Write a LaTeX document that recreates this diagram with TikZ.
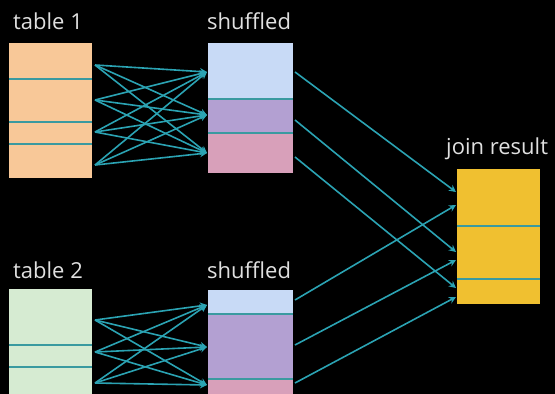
\documentclass[tikz,border=0pt]{standalone}
\usepackage{fontspec}
\setmainfont{Open Sans}
\usetikzlibrary{arrows.meta}
\definecolor{bg}{HTML}{000000}
\definecolor{arrowc}{HTML}{2BA3B3}
\definecolor{divc}{HTML}{3A9AA0}
\definecolor{peach}{HTML}{F8C898}
\definecolor{mint}{HTML}{D6EBD2}
\definecolor{lblue}{HTML}{C8DAF6}
\definecolor{lpurple}{HTML}{B3A0D2}
\definecolor{lpink}{HTML}{D8A0BA}
\definecolor{gold}{HTML}{F0C030}
\definecolor{txt}{HTML}{E0E0E0}
\begin{document}
\begin{tikzpicture}[x=1pt,y=-1pt,
  lbl/.style={anchor=base west,inner sep=0pt,text=txt,font=\fontsize{22}{24}\selectfont},
  conn/.style={draw=arrowc,line width=1.6pt,-{Stealth[length=7pt,width=7pt]}},
  divl/.style={draw=divc,line width=2.6pt}]
\fill[bg] (0,0) rectangle (555,394);
\useasboundingbox (0,0) rectangle (555,394);
% table 1
\fill[peach] (9,43) rectangle (92,178);
\foreach \y in {79,122,144} \draw[divl] (9,\y) -- (92,\y);
% shuffled 1
\fill[lblue] (208,43) rectangle (293,99);
\fill[lpurple] (208,99) rectangle (293,133);
\fill[lpink] (208,133) rectangle (293,173);
\foreach \y in {99,133} \draw[divl] (208,\y) -- (293,\y);
% table 2
\fill[mint] (9,289) rectangle (92,396);
\foreach \y in {345,367} \draw[divl] (9,\y) -- (92,\y);
% shuffled 2
\fill[lblue] (208,290) rectangle (293,314);
\fill[lpurple] (208,314) rectangle (293,379);
\fill[lpink] (208,379) rectangle (293,396);
\foreach \y in {314,379} \draw[divl] (208,\y) -- (293,\y);
% join result
\fill[gold] (457,169) rectangle (540,304);
\foreach \y in {226,279} \draw[divl] (457,\y) -- (540,\y);
% labels
\node[lbl] (t1) at (13,29) {table 1};
\node[lbl] (sh1) at (207,29) {shuffled};
\node[lbl] (t2) at (13,278) {table 2};
\node[lbl] (sh2) at (207,278) {shuffled};
\node[lbl] (jr) at (446,154) {join result};
% coordinates
\coordinate (a1) at (95,65); \coordinate (a2) at (95,100);
\coordinate (a3) at (95,132); \coordinate (a4) at (95,165);
\coordinate (b1) at (207,72); \coordinate (b2) at (207,115); \coordinate (b3) at (207,153);
\coordinate (c1) at (95,320); \coordinate (c2) at (95,352); \coordinate (c3) at (95,383);
\coordinate (d1) at (207,305); \coordinate (d2) at (207,347); \coordinate (d3) at (207,385);
\coordinate (e1) at (295,72); \coordinate (e2) at (295,120); \coordinate (e3) at (295,157);
\coordinate (f1) at (295,300); \coordinate (f2) at (295,345); \coordinate (f3) at (295,383);
\coordinate (j1) at (456,192); \coordinate (j2) at (456,205);
\coordinate (j3) at (456,252); \coordinate (j4) at (456,260);
\coordinate (j5) at (456,288); \coordinate (j6) at (456,297);
% arrows
\foreach \s in {a1,a2,a3,a4} \foreach \t in {b1,b2,b3} \draw[conn] (\s) -- (\t);
\foreach \s in {c1,c2,c3} \foreach \t in {d1,d2,d3} \draw[conn] (\s) -- (\t);
\draw[conn] (e1) -- (j1);
\draw[conn] (e2) -- (j3);
\draw[conn] (e3) -- (j5);
\draw[conn] (f1) -- (j2);
\draw[conn] (f2) -- (j4);
\draw[conn] (f3) -- (j6);
\end{tikzpicture}
\end{document}
